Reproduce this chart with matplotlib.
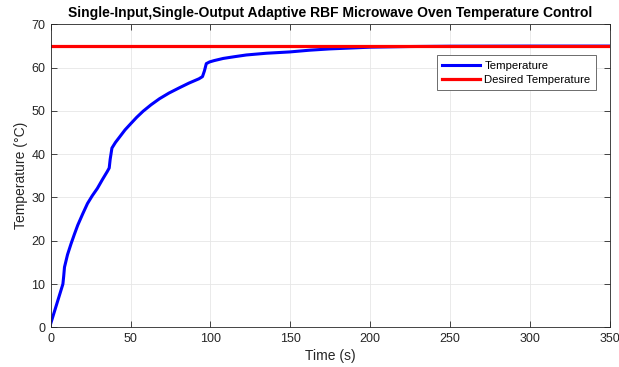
import numpy as np
import matplotlib
matplotlib.use("Agg")
import matplotlib.pyplot as plt

plt.rcParams['font.family'] = ['Liberation Sans', 'DejaVu Sans']

# temperature response
time_s = [0, 7.6, 8.1, 8.6, 10.5, 12.7, 14.8, 16.9, 20, 23.0, 26, 29.2, 32.3, 35.4, 36.6, 37.2, 38.3,
          40.5, 43.4, 46.5, 50, 53.8, 57.8, 62.8, 68.1, 74, 80.4, 86.5, 92.8, 95.0, 96.2, 97.4,
          99.5, 102.3, 108, 115, 122.5, 135, 149.6, 162, 174.6, 200, 225, 250, 300, 350]
temp_c = [0.9, 10.0, 11.8, 13.9, 16.8, 19.3, 21.5, 23.6, 26.2, 28.6, 30.4, 32.1, 34.1, 36.0, 36.8, 38.8, 41.4,
          42.7, 44.1, 45.6, 47.0, 48.5, 49.9, 51.4, 52.8, 54.1, 55.3, 56.4, 57.4, 57.9, 59.2, 60.9,
          61.3, 61.6, 62.1, 62.5, 62.9, 63.3, 63.6, 64.0, 64.3, 64.7, 64.85, 64.92, 64.95, 64.95]
setpoint = 65

fig = plt.figure(figsize=(6.19, 3.67), dpi=100)
ax = fig.add_axes([0.082, 0.108, 0.903, 0.826])

ax.plot(time_s, temp_c, color='#0000ff', lw=2.2, label='Temperature')
ax.plot([0, 350], [setpoint, setpoint], color='#ff0000', lw=2.3, label='Desired Temperature')

ax.set_xlim(0, 350)
ax.set_ylim(0, 70)
ax.set_xticks(np.arange(0, 351, 50))
ax.set_yticks(np.arange(0, 71, 10))
ax.grid(True, color='#e6e6e6', lw=0.6)
ax.set_axisbelow(True)
ax.tick_params(direction='in', top=True, right=True, length=4, width=0.6,
               colors='#262626', labelsize=9, pad=4)
for s in ax.spines.values():
    s.set_color('#262626')
    s.set_linewidth(0.6)

ax.set_xlabel('Time (s)', fontsize=10, color='#262626', labelpad=3)
ax.set_ylabel('Temperature (°C)', fontsize=10, color='#262626', labelpad=2)
ax.set_title('Single-Input,Single-Output Adaptive RBF Microwave Oven Temperature Control',
             fontsize=10, fontweight='bold', pad=5)

leg = ax.legend(loc='upper right', bbox_to_anchor=(0.975, 0.897), borderaxespad=0,
                fontsize=8.2, fancybox=False, edgecolor='#555555', framealpha=1,
                handlelength=3.4, borderpad=0.45, labelspacing=0.4, handletextpad=0.35)
leg.get_frame().set_linewidth(0.6)

fig.savefig('out.png', dpi=100)
